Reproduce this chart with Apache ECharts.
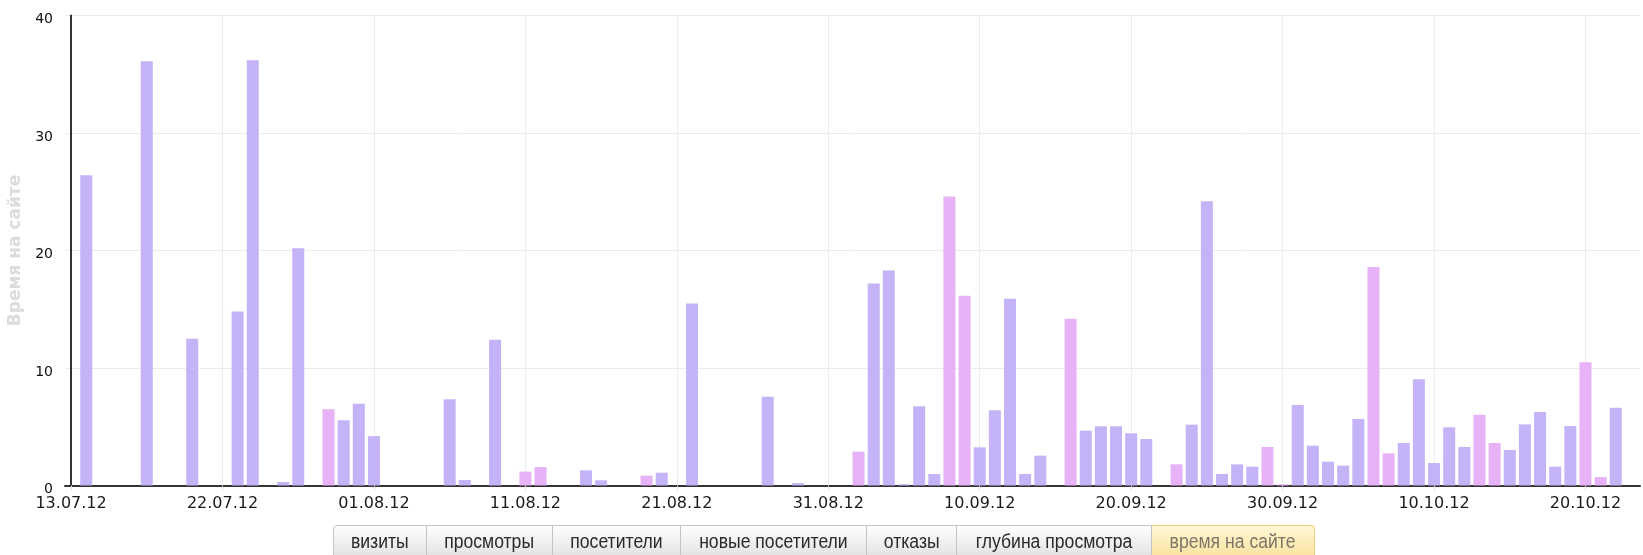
<!DOCTYPE html>
<html>
<head>
<meta charset="utf-8">
<script src="https://cdn.jsdelivr.net/npm/echarts@6/dist/echarts.min.js"></script>
<style>
  html, body { margin: 0; padding: 0; background: #fff; }
  #chart { position: absolute; left: 0; top: 0; width: 1643px; height: 555px; }
  #tabs { position: absolute; left: 333px; top: 525px; height: 32px; display: flex; }
  .tab {
    box-sizing: border-box; height: 33px; line-height: 30px; text-align: center;
    font-family: "Liberation Sans", Arial, sans-serif; font-size: 20px; color: #2a2a2a;
    background: linear-gradient(#fefefe, #e2e2e2);
    border: 1px solid #c4c4c4; border-left: none; white-space: nowrap; overflow: hidden;
  }
  .tab span { display: inline-block; transform: scaleX(0.88); transform-origin: center; }
  .tab.first { border-left: 1px solid #c4c4c4; border-radius: 4px 0 0 0; }
  .tab.sel { background: linear-gradient(#fff7d6, #fbe3a0); border-color: #ead07f; color: #7d7566; border-radius: 0 4px 0 0; }
</style>
</head>
<body>
<div id="chart"></div>
<div id="tabs"></div>
<script>
// ---- data ----
const barDates = ['13.07.12','17.07.12','20.07.12','23.07.12','24.07.12','26.07.12','27.07.12','29.07.12','30.07.12','31.07.12',
  '01.08.12','06.08.12','07.08.12','09.08.12','11.08.12','12.08.12','15.08.12','16.08.12','19.08.12','20.08.12',
  '22.08.12','27.08.12','29.08.12','02.09.12','03.09.12','04.09.12','05.09.12','06.09.12','07.09.12','08.09.12',
  '09.09.12','10.09.12','11.09.12','12.09.12','13.09.12','14.09.12','16.09.12','17.09.12','18.09.12','19.09.12',
  '20.09.12','21.09.12','23.09.12','24.09.12','25.09.12','26.09.12','27.09.12','28.09.12','29.09.12','30.09.12',
  '01.10.12','02.10.12','03.10.12','04.10.12','05.10.12','06.10.12','07.10.12','08.10.12','09.10.12','10.10.12',
  '11.10.12','12.10.12','13.10.12','14.10.12','15.10.12','16.10.12','17.10.12','18.10.12','19.10.12','20.10.12',
  '21.10.12','22.10.12'];
const barValues = [26.4, 36.1, 12.5, 14.8, 36.2, 0.3, 20.2, 6.5, 5.55, 6.96,
  4.2, 7.34, 0.47, 12.4, 1.18, 1.57, 1.29, 0.44, 0.84, 1.09,
  15.5, 7.56, 0.2, 2.88, 17.2, 18.3, 0.1, 6.74, 0.98, 24.6,
  16.15, 3.25, 6.4, 15.9, 0.98, 2.54, 14.2, 4.67, 5.04, 5.04,
  4.44, 3.96, 1.8, 5.18, 24.2, 0.98, 1.8, 1.6, 3.28, 0.1,
  6.85, 3.39, 2.03, 1.69, 5.66, 18.6, 2.74, 3.62, 9.04, 1.91,
  4.95, 3.28, 6.03, 3.62, 3.02, 5.2, 6.26, 1.6, 5.06, 10.5,
  0.72, 6.62];
const axisStartDate = '12.07.12';
const tickStepDays = 10;
const xTickLabels = ['13.07.12','22.07.12','01.08.12','11.08.12','21.08.12','31.08.12','10.09.12','20.09.12','30.09.12','10.10.12','20.10.12'];
const yTicks = [0, 10, 20, 30, 40];
const yAxisTitle = 'Время на сайте';
const tabLabels = ['визиты','просмотры','посетители','новые посетители','отказы','глубина просмотра','время на сайте'];

// ---- helpers ----
function toUTC(s) { const [d, m, y] = s.split('.').map(Number); return Date.UTC(2000 + y, m - 1, d); }
const base = toUTC(axisStartDate);
const dayIdx = s => Math.round((toUTC(s) - base) / 86400000);
const isWeekend = s => { const wd = new Date(toUTC(s)).getUTCDay(); return wd === 0 || wd === 6; };
const tickVals = xTickLabels.map((_, i) => i * tickStepDays);

const data = barDates.map((d, i) => ({
  value: [dayIdx(d), barValues[i]],
  itemStyle: { color: isWeekend(d) ? '#e7b2f7' : '#c4b3f7' }
}));

const chart = echarts.init(document.getElementById('chart'));
chart.setOption({
  animation: false,
  grid: { left: 65, right: 3, top: 15.5, bottom: 69.5, containLabel: false, outerBoundsMode: 'none' },
  xAxis: {
    type: 'value', min: -0.4, max: 103.6,
    axisLine: { show: true, onZero: true, lineStyle: { color: '#333', width: 2 } },
    axisTick: { show: true, customValues: tickVals, length: 5, lineStyle: { color: '#ddd' } },
    axisLabel: {
      customValues: tickVals, margin: 10,
      formatter: v => xTickLabels[Math.round(v / tickStepDays)] || '',
      fontFamily: 'DejaVu Sans', fontSize: 16, color: '#1a1a1a'
    },
    splitLine: { show: true, lineStyle: { color: '#ececec', width: 1 } }
  },
  yAxis: {
    type: 'value', min: yTicks[0], max: yTicks[yTicks.length - 1], interval: 10,
    name: yAxisTitle, nameLocation: 'middle', nameGap: 41,
    nameTextStyle: { color: '#dcdcdc', fontFamily: 'DejaVu Sans', fontWeight: 'bold', fontSize: 17 },
    axisLine: { show: true, lineStyle: { color: '#333', width: 2 } },
    axisTick: { show: false },
    axisLabel: { margin: 12, fontFamily: 'DejaVu Sans', fontSize: 14, color: '#111', verticalAlign: 'top', lineHeight: 8 },
    splitLine: { show: true, lineStyle: { color: '#ececec', width: 1 } }
  },
  series: [{
    type: 'bar', barWidth: 12, data: data
  }]
});

// ---- tabs ----
const tabWidths = [94, 126, 128, 186, 90, 195, 163];
const tabs = document.getElementById('tabs');
tabLabels.forEach((t, i) => {
  const el = document.createElement('div');
  el.className = 'tab' + (i === 0 ? ' first' : '') + (i === tabLabels.length - 1 ? ' sel' : '');
  el.style.width = tabWidths[i] + 'px';
  const sp = document.createElement('span');
  sp.textContent = t;
  el.appendChild(sp);
  tabs.appendChild(el);
});
</script>
</body>
</html>
